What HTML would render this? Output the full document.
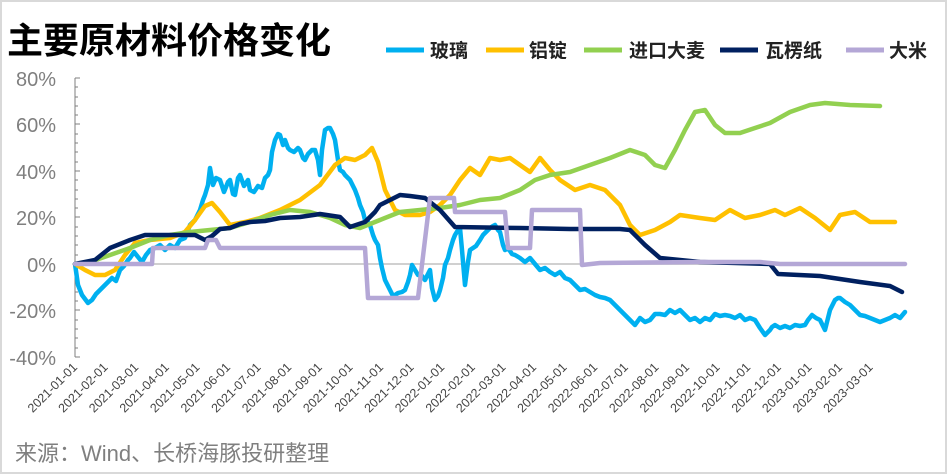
<!DOCTYPE html>
<html><head><meta charset="utf-8"><style>
html,body{margin:0;padding:0;background:#fff}
svg{display:block}
text{font-family:"Liberation Sans","Noto Sans CJK SC",sans-serif}
</style></head><body>
<svg width="947" height="474" viewBox="0 0 947 474" xmlns="http://www.w3.org/2000/svg">
<rect x="1" y="1" width="945" height="472" fill="#fff" stroke="#d9d9d9" stroke-width="2"/>
<text x="7" y="53" font-size="36" font-weight="bold" fill="#000">主要原材料价格变化</text>
<g font-size="19" font-weight="bold" fill="#222">
<line x1="386" y1="50" x2="424" y2="50" stroke="#00B0F0" stroke-width="5"/><text x="430" y="57">玻璃</text>
<line x1="486" y1="50" x2="524" y2="50" stroke="#FFC000" stroke-width="5"/><text x="529" y="57">铝锭</text>
<line x1="584" y1="50" x2="622" y2="50" stroke="#92D050" stroke-width="5"/><text x="629" y="57">进口大麦</text>
<line x1="720" y1="50" x2="758" y2="50" stroke="#002060" stroke-width="5"/><text x="765" y="57">瓦楞纸</text>
<line x1="846" y1="50" x2="884" y2="50" stroke="#B4A7D6" stroke-width="5"/><text x="889" y="57">大米</text>
</g>
<g font-size="20" fill="#7f7f7f" text-anchor="end">
<text x="56" y="86">80%</text><text x="56" y="132">60%</text><text x="56" y="179">40%</text>
<text x="56" y="225">20%</text><text x="56" y="272">0%</text><text x="56" y="318">-20%</text><text x="56" y="365">-40%</text>
</g>
<g stroke="#7f7f7f" stroke-width="1">
<line x1="75" y1="78" x2="75" y2="357"/>
<path d="M75 78h5M75 87h3M75 97h3M75 106h3M75 115h3M75 124h5M75 134h3M75 143h3M75 152h3M75 162h3M75 171h5M75 180h3M75 190h3M75 199h3M75 208h3M75 217h5M75 227h3M75 236h3M75 245h3M75 255h3M75 264h5M75 273h3M75 283h3M75 292h3M75 301h3M75 310h5M75 320h3M75 329h3M75 338h3M75 348h3M75 357h5"/>
</g>
<line x1="75" y1="264" x2="905" y2="264" stroke="#d0d0d0" stroke-width="2"/>
<g font-size="12.5" fill="#444" text-anchor="end">
<text transform="translate(78,368) rotate(-45)">2021-01-01</text>
<text transform="translate(108.6,368) rotate(-45)">2021-02-01</text>
<text transform="translate(139.2,368) rotate(-45)">2021-03-01</text>
<text transform="translate(169.8,368) rotate(-45)">2021-04-01</text>
<text transform="translate(200.4,368) rotate(-45)">2021-05-01</text>
<text transform="translate(231,368) rotate(-45)">2021-06-01</text>
<text transform="translate(261.6,368) rotate(-45)">2021-07-01</text>
<text transform="translate(292.2,368) rotate(-45)">2021-08-01</text>
<text transform="translate(322.8,368) rotate(-45)">2021-09-01</text>
<text transform="translate(353.4,368) rotate(-45)">2021-10-01</text>
<text transform="translate(384,368) rotate(-45)">2021-11-01</text>
<text transform="translate(414.6,368) rotate(-45)">2021-12-01</text>
<text transform="translate(445.2,368) rotate(-45)">2022-01-01</text>
<text transform="translate(475.8,368) rotate(-45)">2022-02-01</text>
<text transform="translate(506.4,368) rotate(-45)">2022-03-01</text>
<text transform="translate(537,368) rotate(-45)">2022-04-01</text>
<text transform="translate(567.6,368) rotate(-45)">2022-05-01</text>
<text transform="translate(598.2,368) rotate(-45)">2022-06-01</text>
<text transform="translate(628.8,368) rotate(-45)">2022-07-01</text>
<text transform="translate(659.4,368) rotate(-45)">2022-08-01</text>
<text transform="translate(690,368) rotate(-45)">2022-09-01</text>
<text transform="translate(720.6,368) rotate(-45)">2022-10-01</text>
<text transform="translate(751.2,368) rotate(-45)">2022-11-01</text>
<text transform="translate(781.8,368) rotate(-45)">2022-12-01</text>
<text transform="translate(812.4,368) rotate(-45)">2023-01-01</text>
<text transform="translate(843,368) rotate(-45)">2023-02-01</text>
<text transform="translate(873.6,368) rotate(-45)">2023-03-01</text>
</g>
<text x="15" y="461" font-size="22" fill="#7f7f7f">来源：Wind、长桥海豚投研整理</text>
<g fill="none" stroke-width="4.5" stroke-linejoin="round" stroke-linecap="round">
<polyline stroke="#00B0F0" points="75,264 78,285 82,295 88,303 92,300 96,294 100,290 104,286 108,282 112,278 116,281 120,270 124,266 128,260 130,258 134,252 138,257 142,262 146,255 150,250 155,248 160,245 165,250 170,245 175,248 180,240 185,238 190,225 195,220 200,210 203,200 205,195 208,185 210,168 213,185 216,178 220,180 224,192 228,182 230,180 233,194 235,195 238,178 240,175 244,186 248,180 250,190 254,192 258,186 262,188 265,178 268,175 270,170 272,152 275,140 278,134 280,135 283,145 285,140 288,148 290,150 294,152 298,148 300,150 303,158 305,160 308,154 312,150 315,150 318,160 320,175 322,150 325,130 328,128 330,128 333,134 335,140 338,160 340,170 343,172 345,175 348,178 350,180 353,186 355,190 358,198 360,205 363,212 365,220 368,222 370,225 373,235 375,240 378,245 380,258 382,268 385,280 388,286 390,290 393,296 395,295 398,293 402,292 405,290 408,282 410,275 412,265 415,270 418,275 422,276 425,280 428,274 430,270 432,288 435,300 438,296 440,290 443,278 445,265 448,258 450,250 453,240 455,235 458,230 460,228 462,250 465,285 468,262 470,250 473,248 476,246 480,240 483,235 486,232 490,228 493,226 495,225 498,230 500,232 503,245 505,250 508,248 512,254 515,255 520,258 525,262 530,258 535,264 540,270 545,268 550,272 555,275 560,272 565,278 570,280 575,285 580,290 585,289 590,292 595,295 600,297 605,298 610,300 615,305 620,310 625,315 630,320 635,325 640,318 645,322 650,320 655,314 660,314 665,315 670,310 675,313 680,310 685,315 690,320 695,318 700,322 705,318 710,320 715,314 720,316 725,315 730,316 735,318 740,315 745,320 750,318 755,320 760,328 765,335 770,330 772,327 775,325 780,328 785,326 790,328 795,325 800,326 805,325 808,320 812,315 816,318 820,320 823,326 825,330 828,318 830,310 833,304 835,300 838,298 840,298 845,302 850,305 855,310 860,315 865,316 870,318 875,320 880,322 885,320 890,318 895,315 900,318 905,312"/>
<polyline stroke="#FFC000" points="75,264 85,270 95,275 105,275 115,270 125,255 135,243 150,240 170,238 185,232 195,220 205,206 212,203 220,212 230,225 245,222 260,218 280,210 300,200 320,185 335,165 345,158 355,160 365,155 372,148 378,162 385,190 395,210 405,215 420,215 430,212 440,205 450,195 460,180 470,168 480,175 490,158 500,160 510,158 520,165 530,172 540,158 550,170 560,180 575,190 590,185 605,190 620,205 630,225 640,235 655,230 670,222 680,215 700,218 715,220 730,210 745,218 760,215 775,210 785,215 800,208 815,218 830,230 840,215 855,212 870,222 885,222 895,222"/>
<polyline stroke="#92D050" points="75,264 90,262 110,255 130,248 150,240 170,235 190,232 210,230 230,228 250,222 270,215 290,210 310,212 330,218 345,225 360,228 380,220 400,212 420,210 440,208 460,205 480,200 500,198 520,190 535,180 550,175 570,172 590,165 610,158 630,150 645,155 655,165 665,168 675,150 685,130 695,112 705,110 715,125 725,133 740,133 755,128 770,123 790,112 810,105 825,103 850,105 880,106"/>
<polyline stroke="#002060" points="75,264 85,262 95,260 110,248 130,240 145,235 175,235 195,235 205,240 212,236 220,229 230,228 240,224 250,222 265,221 280,218 300,217 320,214 340,217 350,227 365,222 375,212 380,205 390,200 400,195 410,196 425,198 440,210 455,227 520,228 570,229 620,229 630,230 645,245 660,258 700,262 770,264 778,274 820,276 860,282 890,286 902,292"/>
<polyline stroke="#B4A7D6" points="75,264 152,264 153,248 205,248 208,240 216,240 220,248 345,248 365,248 368,298 418,298 430,198 454,198 455,212 505,212 508,248 530,248 532,210 580,210 582,265 600,263 700,262 760,262 780,264 905,264"/>
</g>
</svg>
</body></html>
